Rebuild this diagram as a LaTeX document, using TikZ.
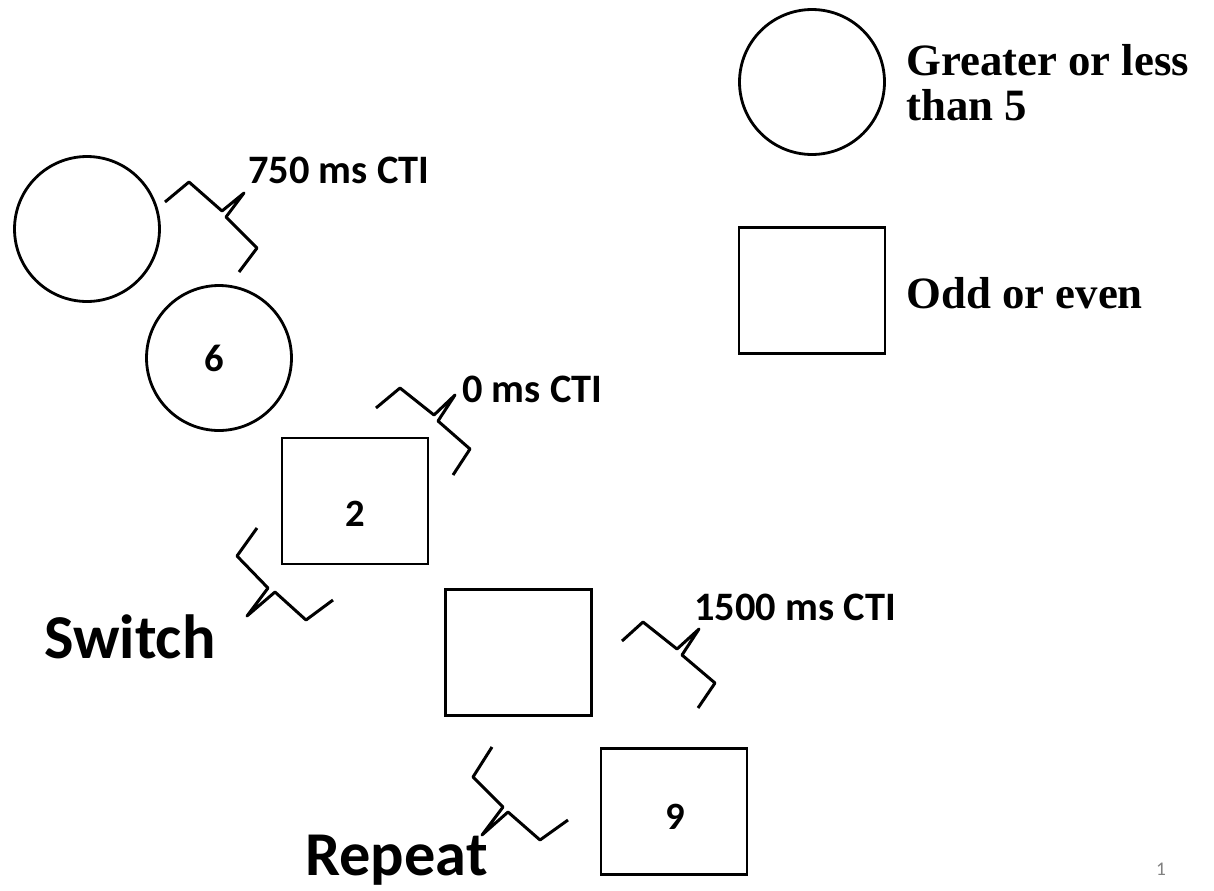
\documentclass[tikz,border=0pt]{standalone}
\usepackage{fontspec}
\setmainfont{Carlito}
\newfontfamily\legendfont{Liberation Serif}
\tikzset{
	trial/.style={draw, line width=1.6pt},
	round trial/.style={trial, circle, minimum size=2.9cm},
	box trial/.style={trial, rectangle, minimum width=2.92cm, minimum height=2.52cm},
	cti/.style={line width=1.7pt, line join=round},
	digit/.style={font=\bfseries\fontsize{22}{24}\selectfont},
	ctilabel/.style={anchor=base west, inner sep=0pt, font=\bfseries\fontsize{23}{26}\selectfont},
	kind/.style={anchor=base west, inner sep=0pt, font=\bfseries\fontsize{35.5}{38}\selectfont},
	legend/.style={anchor=base west, inner sep=0pt, align=left, font=\legendfont\bfseries\fontsize{25.5}{25.5}\selectfont}
}
\begin{document}
\begin{tikzpicture}[x=0.02cm, y=-0.02cm]
	\useasboundingbox (0, 0) rectangle (1214, 890);

	% legend
	\node[round trial] (keyround) at (812, 82) {};
	\node[box trial] (keybox) at (812, 290.5) {};
	\node[legend] (keyroundtxt) at (906, 120) {Greater or less\\than 5};
	\node[legend] (keyboxtxt) at (906, 308) {Odd or even};

	% trial sequence
	\node[round trial] (t1) at (87, 229) {};
	\node[round trial] (t2) at (219, 358) {};
	\node[box trial] (t3) at (355, 501) {};
	\node[box trial] (t4) at (518.5, 652.5) {};
	\node[box trial] (t5) at (674, 811.5) {};
	\node[digit] (d2) at (214, 358) {6};
	\node[digit] (d3) at (355, 514) {2};
	\node[digit] (d5) at (675, 817) {9};

	% intervals between trials
	\draw[cti] (165, 202) -- (189, 182) -- (222, 211) -- (244, 193) -- (226, 217) -- (257, 248) -- (239, 272);
	\draw[cti] (376, 408) -- (400, 388) -- (434, 415) -- (455, 395) -- (438, 421) -- (470, 449) -- (453, 475);
	\draw[cti] (622, 641) -- (643, 622) -- (677, 649) -- (699, 629) -- (682, 655) -- (715, 683) -- (698, 708);
	\node[ctilabel] (cti1) at (248, 183) {750 ms CTI};
	\node[ctilabel] (cti2) at (462, 402) {0 ms CTI};
	\node[ctilabel] (cti3) at (694, 620) {1500 ms CTI};

	% switch and repeat transitions
	\draw[cti] (257, 528) -- (237, 556) -- (268, 588) -- (247, 616) -- (275, 592) -- (306, 620) -- (333, 600);
	\draw[cti] (492, 747) -- (473, 777) -- (503, 807) -- (482, 835) -- (508, 812) -- (540, 840) -- (568, 820);
	\node[kind] (sw) at (44, 658) {Switch};
	\node[kind] (rep) at (305, 875) {Repeat};

	\node[text=gray, font=\fontsize{11}{12}\selectfont] (page) at (1161, 869) {1};
\end{tikzpicture}
\end{document}
